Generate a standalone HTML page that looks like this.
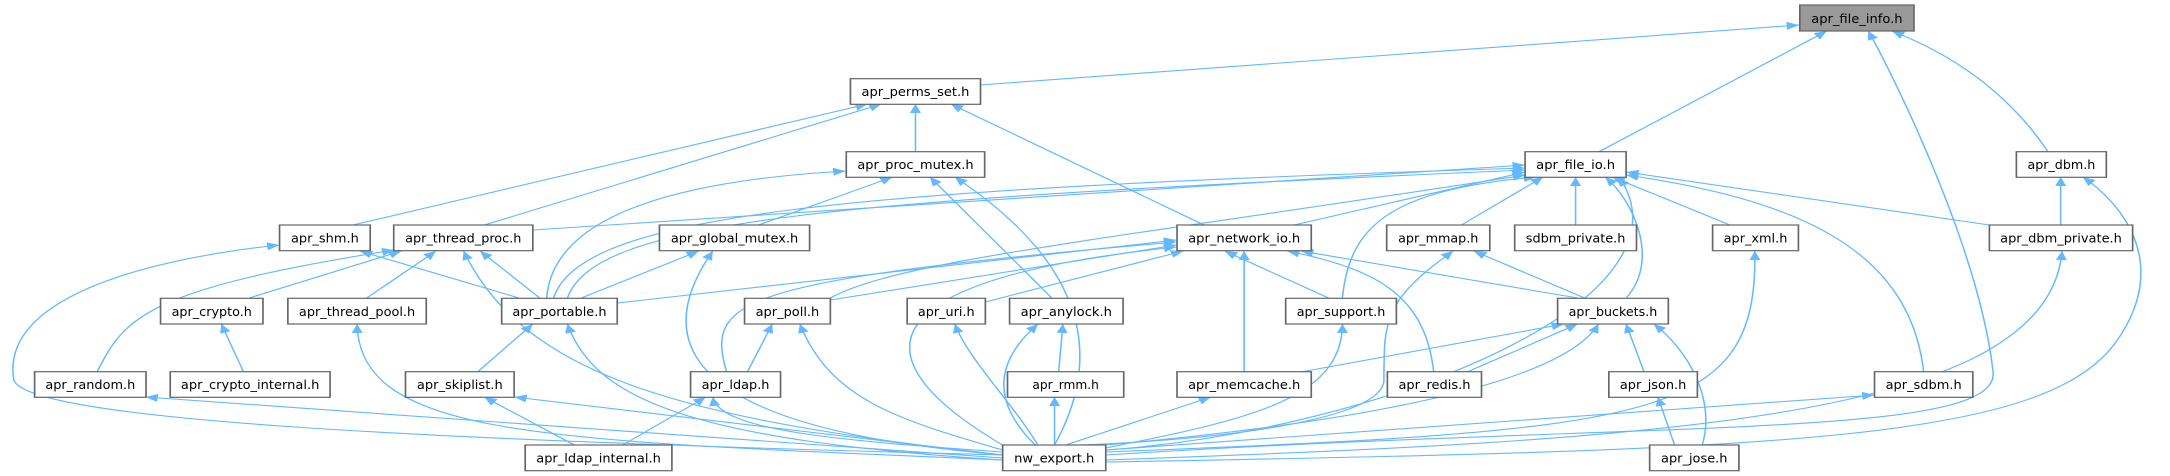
<!DOCTYPE html>
<html><head><meta charset="utf-8"><style>
html,body{margin:0;padding:0;background:#fff;}
svg{display:block;}
text{font-family:"DejaVu Sans","Liberation Sans",sans-serif;font-size:12px;fill:#000;}
.e{fill:none;stroke:#63b8ff;stroke-width:1.1;marker-end:url(#a);}
.n{fill:#fff;stroke:#666;stroke-width:1.2;}
</style></head><body>
<svg width="2170" height="476" viewBox="0 0 1568 476" preserveAspectRatio="none" xmlns="http://www.w3.org/2000/svg">
<defs><marker id="a" markerUnits="userSpaceOnUse" markerWidth="10" markerHeight="10" refX="9" refY="4" orient="auto"><path d="M0,0 L9,4 L0,8 z" fill="#63b8ff"/></marker></defs>
<g>
<path class="e" d="M708,85 L1300,25"/>
<path class="e" d="M1155,152 L1320,31"/>
<path class="e" d="M799,455 C1200,420 1450,440 1440,370 C1430,250 1370,80 1350,31"/>
<path class="e" d="M1480,152 Q1440,70 1367,31"/>
<path class="e" d="M661.5,152 L661.5,104"/>
<path class="e" d="M255,225 L627,104"/>
<path class="e" d="M350,225 L637,104"/>
<path class="e" d="M870,225 L687,104"/>
<path class="e" d="M395,298 C400,210 500,180 611,171"/>
<path class="e" d="M548,225 L645,177"/>
<path class="e" d="M760,298 L672,177"/>
<path class="e" d="M762,445 C800,350 780,260 690,177"/>
<path class="e" d="M385,230 L1102,165"/>
<path class="e" d="M410,298 C430,220 600,200 1102,170"/>
<path class="e" d="M400,298 C420,215 600,190 1102,168"/>
<path class="e" d="M935,225 L1102,172"/>
<path class="e" d="M600,298 C650,260 800,240 1102,175"/>
<path class="e" d="M970,298 C975,230 1000,190 1110,177"/>
<path class="e" d="M1056,225 L1115,177"/>
<path class="e" d="M1138.5,225 L1138.5,177"/>
<path class="e" d="M1175,298 C1200,260 1180,200 1160,177"/>
<path class="e" d="M1250,225 L1165,177"/>
<path class="e" d="M1437.5,225 L1175,172"/>
<path class="e" d="M1390,372 C1380,250 1300,200 1175,175"/>
<path class="e" d="M799,450 C1000,430 1230,300 1170,177"/>
<path class="e" d="M1489,225 L1489,177"/>
<path class="e" d="M799,462 C1300,450 1480,440 1530,340 C1570,260 1530,200 1505,177"/>
<path class="e" d="M799,460 C1200,440 1480,420 1490,251"/>
<path class="e" d="M375,298 L260,251"/>
<path class="e" d="M724.5,455 C300,440 20,420 10,380 C0,300 100,260 202,245"/>
<path class="e" d="M180,298 L290,251"/>
<path class="e" d="M265,298 L315,251"/>
<path class="e" d="M390,298 L347,251"/>
<path class="e" d="M70,372 C90,320 100,290 285,250"/>
<path class="e" d="M724.5,455 C500,420 380,380 335,251"/>
<path class="e" d="M420,298 L505,251"/>
<path class="e" d="M724.5,455 C600,440 440,400 515,251"/>
<path class="e" d="M446,303 L850,240"/>
<path class="e" d="M600,300 L850,245"/>
<path class="e" d="M525,372 C510,300 530,280 850,242"/>
<path class="e" d="M724.5,445 C620,360 620,280 850,247"/>
<path class="e" d="M712,302 L855,251"/>
<path class="e" d="M960,298 L885,251"/>
<path class="e" d="M899,372 L899,251"/>
<path class="e" d="M1036,372 C1030,300 1000,270 930,251"/>
<path class="e" d="M1140,298 L940,251"/>
<path class="e" d="M176,372 L160,324"/>
<path class="e" d="M724.5,460 C400,440 260,440 258,324"/>
<path class="e" d="M345,372 L385,324"/>
<path class="e" d="M724.5,460 C500,440 430,400 410,324"/>
<path class="e" d="M540,372 L558,324"/>
<path class="e" d="M724.5,450 C650,420 600,400 578,324"/>
<path class="e" d="M750,445 C730,400 700,360 690,324"/>
<path class="e" d="M765,372 L768,324"/>
<path class="e" d="M748,445 C715,400 720,360 750,324"/>
<path class="e" d="M1145,298 L1065,251"/>
<path class="e" d="M780,445 C880,440 1000,420 1000,380 C1000,320 1000,300 1050,251"/>
<path class="e" d="M799,452 C1200,430 1270,420 1268,251"/>
<path class="e" d="M799,448 C900,420 970,400 970,324"/>
<path class="e" d="M940,372 L1130,324"/>
<path class="e" d="M1060,372 L1140,324"/>
<path class="e" d="M1188,372 L1175,324"/>
<path class="e" d="M1230,445 C1240,400 1220,350 1195,324"/>
<path class="e" d="M799,445 C1000,420 1130,380 1155,324"/>
<path class="e" d="M770,445 L875,397"/>
<path class="e" d="M762,445 L762,397"/>
<path class="e" d="M415,445 L350,397"/>
<path class="e" d="M724.5,455 L371.5,397"/>
<path class="e" d="M450,445 L510,397"/>
<path class="e" d="M724.5,452 C600,440 520,430 515,397"/>
<path class="e" d="M724.5,458 L105,397"/>
<path class="e" d="M1210,445 L1198,397"/>
<path class="e" d="M799,450 L1354.5,395"/>
</g>
<g>
<rect x="1300.5" y="5" width="82.5" height="26" fill="#999" stroke="#666" stroke-width="1.2"/><text x="1341.75" y="23" text-anchor="middle" textLength="66" lengthAdjust="spacingAndGlyphs">apr_file_info.h</text>
<rect class="n" x="614.5" y="78.7" width="94" height="25.6"/><text x="661.5" y="96" text-anchor="middle" textLength="78" lengthAdjust="spacingAndGlyphs">apr_perms_set.h</text>
<rect class="n" x="611.5" y="151.7" width="100" height="25.6"/><text x="661.5" y="169" text-anchor="middle" textLength="84" lengthAdjust="spacingAndGlyphs">apr_proc_mutex.h</text>
<rect class="n" x="1102" y="151.7" width="73" height="25.6"/><text x="1138.5" y="169" text-anchor="middle" textLength="57" lengthAdjust="spacingAndGlyphs">apr_file_io.h</text>
<rect class="n" x="1457" y="151.7" width="65" height="25.6"/><text x="1489.5" y="169" text-anchor="middle" textLength="49" lengthAdjust="spacingAndGlyphs">apr_dbm.h</text>
<rect class="n" x="202" y="225" width="65.5" height="25.7"/><text x="234.75" y="242.5" text-anchor="middle" textLength="49" lengthAdjust="spacingAndGlyphs">apr_shm.h</text>
<rect class="n" x="284.5" y="225" width="100.5" height="25.7"/><text x="334.75" y="242.5" text-anchor="middle" textLength="84" lengthAdjust="spacingAndGlyphs">apr_thread_proc.h</text>
<rect class="n" x="476.5" y="225" width="108.5" height="25.7"/><text x="530.75" y="242.5" text-anchor="middle" textLength="92" lengthAdjust="spacingAndGlyphs">apr_global_mutex.h</text>
<rect class="n" x="850.5" y="225" width="97" height="25.7"/><text x="899" y="242.5" text-anchor="middle" textLength="81" lengthAdjust="spacingAndGlyphs">apr_network_io.h</text>
<rect class="n" x="1002" y="225" width="74.5" height="25.7"/><text x="1039.25" y="242.5" text-anchor="middle" textLength="58" lengthAdjust="spacingAndGlyphs">apr_mmap.h</text>
<rect class="n" x="1094.5" y="225" width="88" height="25.7"/><text x="1138.5" y="242.5" text-anchor="middle" textLength="72" lengthAdjust="spacingAndGlyphs">sdbm_private.h</text>
<rect class="n" x="1237.5" y="225" width="62" height="25.7"/><text x="1268.5" y="242.5" text-anchor="middle" textLength="46" lengthAdjust="spacingAndGlyphs">apr_xml.h</text>
<rect class="n" x="1437.5" y="225" width="103.5" height="25.7"/><text x="1489.25" y="242.5" text-anchor="middle" textLength="88" lengthAdjust="spacingAndGlyphs">apr_dbm_private.h</text>
<rect class="n" x="116" y="298.3" width="74" height="25.7"/><text x="153" y="316" text-anchor="middle" textLength="58" lengthAdjust="spacingAndGlyphs">apr_crypto.h</text>
<rect class="n" x="208" y="298.3" width="100" height="25.7"/><text x="258" y="316" text-anchor="middle" textLength="84" lengthAdjust="spacingAndGlyphs">apr_thread_pool.h</text>
<rect class="n" x="362.5" y="298.3" width="83.5" height="25.7"/><text x="404.25" y="316" text-anchor="middle" textLength="68" lengthAdjust="spacingAndGlyphs">apr_portable.h</text>
<rect class="n" x="538" y="298.3" width="62" height="25.7"/><text x="569" y="316" text-anchor="middle" textLength="46" lengthAdjust="spacingAndGlyphs">apr_poll.h</text>
<rect class="n" x="655.5" y="298.3" width="56.5" height="25.7"/><text x="683.75" y="316" text-anchor="middle" textLength="41" lengthAdjust="spacingAndGlyphs">apr_uri.h</text>
<rect class="n" x="729.5" y="298.3" width="82" height="25.7"/><text x="770.5" y="316" text-anchor="middle" textLength="66" lengthAdjust="spacingAndGlyphs">apr_anylock.h</text>
<rect class="n" x="929" y="298.3" width="80" height="25.7"/><text x="969" y="316" text-anchor="middle" textLength="64" lengthAdjust="spacingAndGlyphs">apr_support.h</text>
<rect class="n" x="1125.5" y="298.3" width="80" height="25.7"/><text x="1165.5" y="316" text-anchor="middle" textLength="64" lengthAdjust="spacingAndGlyphs">apr_buckets.h</text>
<rect class="n" x="25" y="371.7" width="80.5" height="25.6"/><text x="65.25" y="389" text-anchor="middle" textLength="65" lengthAdjust="spacingAndGlyphs">apr_random.h</text>
<rect class="n" x="123" y="371.7" width="115.5" height="25.6"/><text x="180.75" y="389" text-anchor="middle" textLength="100" lengthAdjust="spacingAndGlyphs">apr_crypto_internal.h</text>
<rect class="n" x="293" y="371.7" width="78.5" height="25.6"/><text x="332.25" y="389" text-anchor="middle" textLength="62" lengthAdjust="spacingAndGlyphs">apr_skiplist.h</text>
<rect class="n" x="499" y="371.7" width="65" height="25.6"/><text x="531.5" y="389" text-anchor="middle" textLength="49" lengthAdjust="spacingAndGlyphs">apr_ldap.h</text>
<rect class="n" x="728" y="371.7" width="84" height="25.6"/><text x="770" y="389" text-anchor="middle" textLength="48" lengthAdjust="spacingAndGlyphs">apr_rmm.h</text>
<rect class="n" x="850.5" y="371.7" width="97" height="25.6"/><text x="899" y="389" text-anchor="middle" textLength="81" lengthAdjust="spacingAndGlyphs">apr_memcache.h</text>
<rect class="n" x="1002.5" y="371.7" width="68" height="25.6"/><text x="1036.5" y="389" text-anchor="middle" textLength="52" lengthAdjust="spacingAndGlyphs">apr_redis.h</text>
<rect class="n" x="1162.5" y="371.7" width="64" height="25.6"/><text x="1194.5" y="389" text-anchor="middle" textLength="48" lengthAdjust="spacingAndGlyphs">apr_json.h</text>
<rect class="n" x="1354.5" y="371.7" width="71" height="25.6"/><text x="1390" y="389" text-anchor="middle" textLength="55" lengthAdjust="spacingAndGlyphs">apr_sdbm.h</text>
<rect class="n" x="379.5" y="445" width="106" height="25.7"/><text x="432.5" y="462.5" text-anchor="middle" textLength="90" lengthAdjust="spacingAndGlyphs">apr_ldap_internal.h</text>
<rect class="n" x="724.5" y="445" width="74.5" height="25.7"/><text x="761.75" y="462.5" text-anchor="middle" textLength="58" lengthAdjust="spacingAndGlyphs">nw_export.h</text>
<rect class="n" x="1192" y="445" width="64.5" height="25.7"/><text x="1224.25" y="462.5" text-anchor="middle" textLength="48" lengthAdjust="spacingAndGlyphs">apr_jose.h</text>
</g>
</svg>
</body></html>
